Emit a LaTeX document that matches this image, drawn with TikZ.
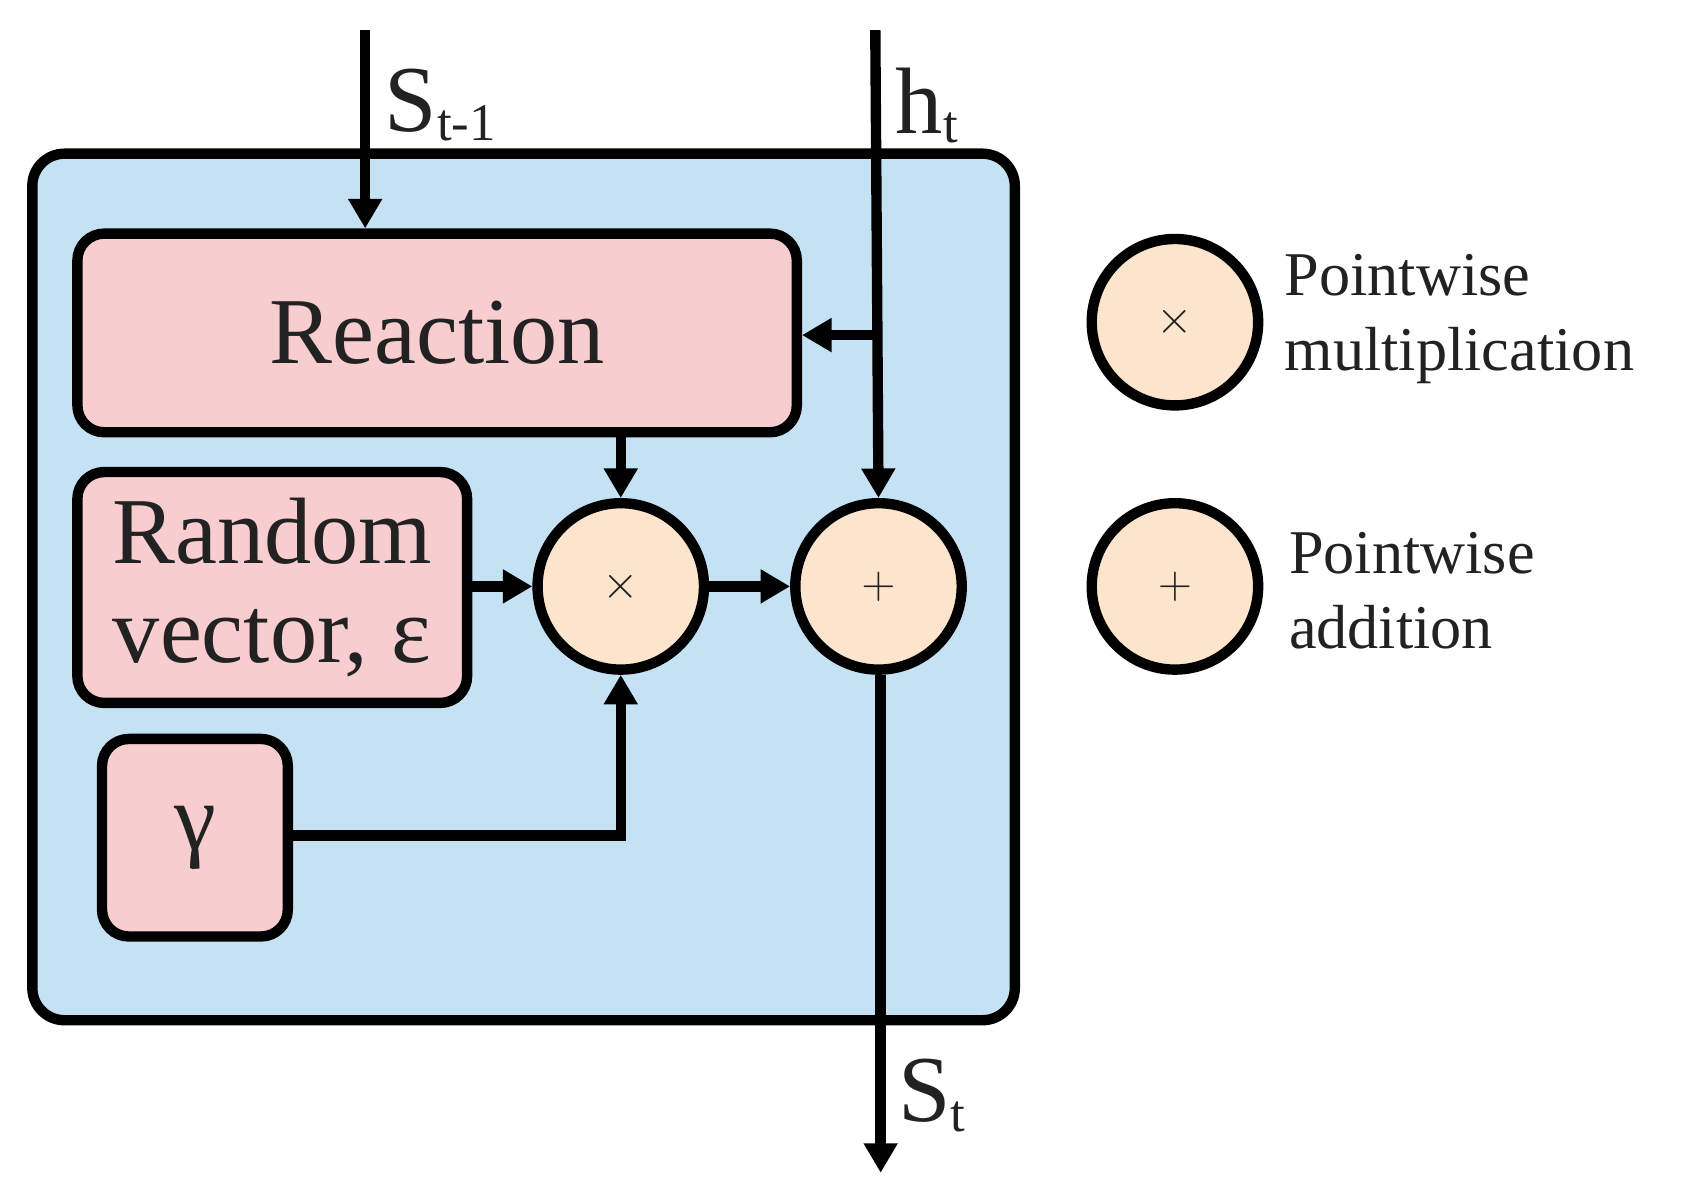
\documentclass[tikz,border=0pt]{standalone}
\usepackage{fontspec}
\setmainfont{Liberation Serif}
\usetikzlibrary{arrows.meta}
\definecolor{bluebg}{HTML}{C5E2F5}
\definecolor{pinkf}{HTML}{F8CDD0}
\definecolor{peach}{HTML}{FDE4CC}
\definecolor{txt}{HTML}{222222}
\begin{document}
\begin{tikzpicture}[x=0.02cm,y=-0.02cm,
  lw/.style={line width=5.5pt},
  box/.style={lw,draw=black,fill=pinkf,rounded corners=0.5cm},
  op/.style={lw,draw=black,fill=peach,circle,minimum size=3.1cm,inner sep=0pt,font=\fontsize{70}{70}\selectfont,text=txt},
  arr/.style={lw,-{Triangle[length=0.55cm,width=0.6cm]}},
  big/.style={font=\fontsize{50}{52}\selectfont,text=txt},
  leg/.style={font=\fontsize{33}{40}\selectfont,text=txt,align=left,anchor=west}]
\useasboundingbox (0,0) rectangle (1568,1117);
\node[lw,draw=black,fill=bluebg,rounded corners=0.6cm,minimum width=18.3cm,minimum height=16.14cm] (outer) at (487.5,546.5) {};
\node[box,minimum width=13.4cm,minimum height=3.7cm,big] (react) at (407,310) {Reaction};
\node[box,minimum width=7.26cm,minimum height=4.3cm,big,align=center] (rand) at (253.5,547) {Random\\vector, ε};
\node[box,minimum width=3.46cm,minimum height=3.68cm,big] (gam) at (181.5,780) {γ};
\node[op] (mul) at (578,546) {$\times$};
\node[op] (add) at (818,546) {$+$};
\node[op] (lmul) at (1094,300) {$\times$};
\node[op] (ladd) at (1094,546) {$+$};
\node[leg] (t1) at (1190,297) {Pointwise\\multiplication};
\node[leg] (t2) at (1194,550) {Pointwise\\addition};
\coordinate (sin) at (340,28);
\coordinate (hin) at (815,28);
\coordinate (hbr) at (815,312);
\coordinate (gc) at (578,778);
\coordinate (sout) at (820,1092);
\draw[arr] (sin) -- (sin |- react.north);
\node[big,anchor=west] (ls1) at (352,98) {S\raisebox{-0.1em}{\fontsize{28}{28}\selectfont t-1}};
\node[big,anchor=west] (lh) at (828,98) {h\raisebox{-0.1em}{\fontsize{28}{28}\selectfont t}};
\draw[arr] (hin) -- (add.north);
\draw[arr] (hbr) -- (react.east |- hbr);
\draw[arr] (react.south -| mul.north) -- (mul.north);
\draw[arr] (rand.east |- mul.west) -- (mul.west);
\draw[arr] (mul.east) -- (add.west);
\draw[arr] (gam.east |- gc) -- (gc) -- (mul.south);
\draw[arr] (add.south -| sout) -- (sout);
\node[big,anchor=west] (ls) at (830,1020) {S\raisebox{-0.1em}{\fontsize{28}{28}\selectfont t}};
\end{tikzpicture}
\end{document}
